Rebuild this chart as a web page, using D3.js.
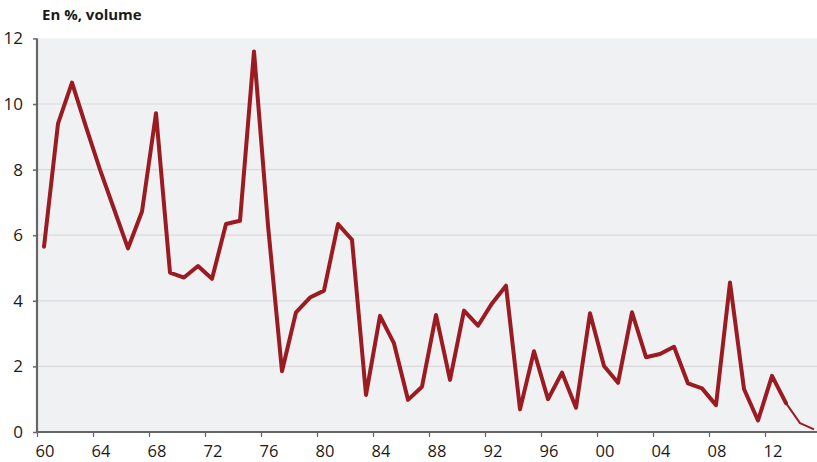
<!DOCTYPE html>
<html><head><meta charset="utf-8">
<script src="https://cdn.jsdelivr.net/npm/d3@7"></script>
<style>
body{margin:0;background:#fff;}
text{font-family:"Open Sans",sans-serif;}
</style></head>
<body><svg id="c" width="817" height="462"></svg>
<script>
const years = d3.range(1960, 2016);
const values = [5.65, 9.4, 10.65, 9.3, 8.0, 6.8, 5.6, 6.72, 9.72, 4.86,
  4.71, 5.06, 4.67, 6.34, 6.44, 11.6, 6.3, 1.85, 3.65, 4.1,
  4.31, 6.34, 5.86, 1.13, 3.54, 2.7, 0.98, 1.38, 3.57, 1.59,
  3.70, 3.24, 3.92, 4.46, 0.69, 2.46, 1.0, 1.81, 0.74, 3.62,
  2.01, 1.5, 3.65, 2.28, 2.38, 2.6, 1.48, 1.33, 0.82, 4.56,
  1.31, 0.35, 1.71, 0.88, 0.27, 0.08];
const forecastFrom = 2013;
const xTickYears = d3.range(1960, 2013, 4);
const yTicks = [0, 2, 4, 6, 8, 10, 12];
const title = "En %, volume";

const svg = d3.select("#c");
const L = 37, R = 817, B = 432, T = 38.4;
const x = d3.scaleLinear().domain([1960, 1960 + (R - L) / 14]).range([L, R]);
const y = d3.scaleLinear().domain([0, 12]).range([B, T]);

svg.append("rect").attr("x", L).attr("y", y(12)).attr("width", R - L).attr("height", B - y(12)).attr("fill", "#f0f1f3");

// gridlines
svg.append("g").selectAll("line").data(yTicks.filter(d => d > 0 && d < 12)).join("line")
  .attr("x1", L).attr("x2", R).attr("y1", d => y(d)).attr("y2", d => y(d))
  .attr("stroke", "#d9d9dc").attr("stroke-width", 1.2);

// y axis
const yAxis = svg.append("g").attr("transform", `translate(${L},0)`)
  .call(d3.axisLeft(y).tickValues(yTicks).tickSize(4).tickPadding(10).tickFormat(d3.format("d")));
yAxis.select(".domain").remove();
yAxis.selectAll(".tick line").attr("stroke", "#666").attr("stroke-width", 1.5);
yAxis.selectAll(".tick text").attr("font-size", 17).attr("fill", "#1a1a1a").attr("font-family", "Open Sans");
svg.append("line").attr("x1", L).attr("x2", L).attr("y1", y(12)).attr("y2", B + 1)
  .attr("stroke", "#666").attr("stroke-width", 2.2);

// x axis
const xAxis = svg.append("g").attr("transform", `translate(0,${B})`)
  .call(d3.axisBottom(x).tickValues(xTickYears).tickSize(5).tickPadding(8)
    .tickFormat(d => d3.format("02d")(d % 100)));
xAxis.select(".domain").remove();
xAxis.selectAll(".tick line").attr("stroke", "#666").attr("stroke-width", 1.2);
xAxis.selectAll(".tick text").attr("font-size", 16.5).attr("fill", "#1a1a1a")
  .attr("font-family", "Open Sans").attr("text-anchor", "start").attr("dx", -2)
  .attr("y", 24.5).attr("dy", 0);
svg.append("line").attr("x1", L - 1).attr("x2", R).attr("y1", B).attr("y2", B)
  .attr("stroke", "#666").attr("stroke-width", 2.2);

// line
const data = years.map((yr, i) => ({yr, v: values[i]}));
const line = d3.line().x(d => x(d.yr + 0.5)).y(d => y(d.v));
svg.append("path").datum(data.filter(d => d.yr <= forecastFrom)).attr("d", line)
  .attr("fill", "none").attr("stroke", "#9b1b22").attr("stroke-width", 4).attr("stroke-linejoin", "round").attr("stroke-linecap", "round");
svg.append("path").datum(data.filter(d => d.yr >= forecastFrom)).attr("d", line)
  .attr("fill", "none").attr("stroke", "#9b1b22").attr("stroke-width", 2).attr("stroke-linejoin", "round");

svg.append("text").attr("x", 42).attr("y", 20).attr("font-size", 15).attr("font-weight", "bold")
  .attr("fill", "#1a1a1a").text(title);
</script></body></html>
